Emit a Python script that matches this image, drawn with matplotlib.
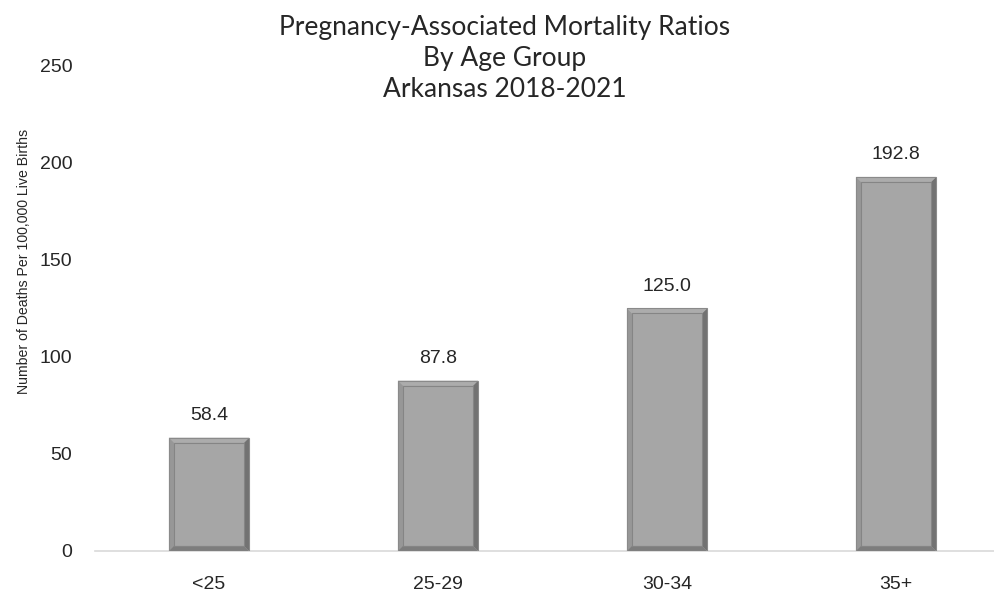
import matplotlib
matplotlib.use("Agg")
import matplotlib.pyplot as plt
from matplotlib.patches import Polygon

AGE_GROUPS = ["<25", "25-29", "30-34", "35+"]
RATIOS = [58.4, 87.8, 125.0, 192.8]
Y_TICKS = [0, 50, 100, 150, 200, 250]
TITLE = "Pregnancy-Associated Mortality Ratios\nBy Age Group\nArkansas 2018-2021"
Y_LABEL = "Number of Deaths Per 100,000 Live Births"

TEXT_COLOR = "#262626"
BAR_COLOR = "#a6a6a6"


def add_bevel(ax, bar, px=5):
    # Shade the four sides of a bar so it looks raised
    fig_w, fig_h = ax.figure.get_size_inches() * ax.figure.dpi
    pos = ax.get_position()
    x0, x1 = ax.get_xlim()
    y0, y1 = ax.get_ylim()
    dx = px * (x1 - x0) / (pos.width * fig_w)
    dy = px * (y1 - y0) / (pos.height * fig_h)

    left = bar.get_x()
    right = left + bar.get_width()
    bottom = bar.get_y()
    top = bottom + bar.get_height()

    sides = [
        ([(left, bottom), (left + dx, bottom + dy), (left + dx, top - dy), (left, top)], "#979797"),
        ([(right, bottom), (right - dx, bottom + dy), (right - dx, top - dy), (right, top)], "#727272"),
        ([(left, bottom), (right, bottom), (right - dx, bottom + dy), (left + dx, bottom + dy)], "#7d7d7d"),
        ([(left, top), (right, top), (right - dx, top - dy), (left + dx, top - dy)], "#acacac"),
    ]
    for pts, color in sides:
        ax.add_patch(Polygon(pts, closed=True, facecolor=color, edgecolor="none", zorder=3))
    ax.add_patch(plt.Rectangle((left + dx, bottom + dy), right - left - 2 * dx, top - bottom - 2 * dy,
                               facecolor="none", edgecolor="#858585", linewidth=0.8, zorder=4))
    ax.add_patch(plt.Rectangle((left, bottom), right - left, top - bottom,
                               facecolor="none", edgecolor="#8a8a8a", linewidth=0.8, zorder=4))


def main():
    plt.rcParams["font.family"] = ["Liberation Sans", "DejaVu Sans"]

    fig = plt.figure(figsize=(9.95, 5.92), dpi=100)
    ax = fig.add_axes([0.095, 0.0693, 0.9206, 0.8193])

    x = list(range(len(AGE_GROUPS)))
    bars = ax.bar(x, RATIOS, width=0.35, color=BAR_COLOR, zorder=2)

    ax.set_xlim(-0.5, len(AGE_GROUPS) - 0.5)
    ax.set_ylim(0, 250)
    ax.set_yticks(Y_TICKS)
    ax.set_xticks(x)
    ax.set_xticklabels(AGE_GROUPS)

    for bar in bars:
        add_bevel(ax, bar)

    # Value labels above each bar
    for xi, val in zip(x, RATIOS):
        ax.annotate(f"{val:.1f}", (xi, val), xytext=(0, 10), textcoords="offset points",
                    ha="center", va="bottom", fontsize=14, color=TEXT_COLOR)

    for side in ["top", "right", "left"]:
        ax.spines[side].set_visible(False)
    ax.spines["bottom"].set_color("#d9d9d9")
    ax.spines["bottom"].set_linewidth(1.2)

    ax.tick_params(axis="y", length=0, pad=16, labelsize=14, labelcolor=TEXT_COLOR)
    ax.tick_params(axis="x", length=0, pad=18, labelsize=14, labelcolor=TEXT_COLOR)

    ax.set_ylabel(Y_LABEL, fontsize=10.2, color=TEXT_COLOR)
    ax.yaxis.set_label_coords(-0.069, 0.596)

    fig.text(0.507, 0.974, TITLE, ha="center", va="top", fontsize=19, color=TEXT_COLOR,
             family=["Lato", "DejaVu Sans"], linespacing=1.29)

    fig.savefig("out.png", dpi=100)


if __name__ == "__main__":
    main()
